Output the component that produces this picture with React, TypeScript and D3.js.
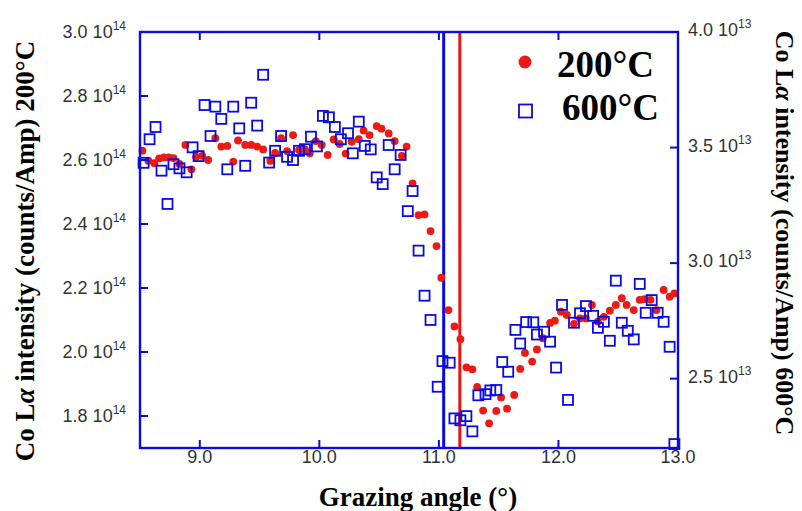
import React from "react";
import * as d3 from "d3";

const angle200 = [8.52,8.57,8.62,8.66,8.70,8.74,8.78,8.83,8.88,8.93,8.97,9.02,9.07,9.13,9.18,9.23,9.28,9.32,9.38,9.43,9.48,9.53,9.59,9.63,9.68,9.73,9.78,9.83,9.88,9.92,9.97,10.02,10.07,10.12,10.17,10.22,10.27,10.33,10.37,10.42,10.48,10.52,10.58,10.63,10.69,10.73,10.78,10.83,10.88,10.93,10.98,11.02,11.08,11.13,11.18,11.23,11.28,11.32,11.37,11.42,11.48,11.52,11.57,11.63,11.68,11.72,11.78,11.82,11.87,11.93,11.97,12.02,12.07,12.13,12.18,12.23,12.28,12.33,12.38,12.43,12.48,12.53,12.57,12.63,12.68,12.72,12.77,12.82,12.88,12.93,12.97];
// intensity in units of 1e14 counts/Amp
const int200 = [2.629,2.598,2.590,2.605,2.608,2.608,2.606,2.588,2.647,2.571,2.610,2.613,2.600,2.668,2.642,2.644,2.595,2.661,2.647,2.647,2.642,2.633,2.597,2.622,2.668,2.628,2.678,2.631,2.633,2.621,2.659,2.647,2.616,2.664,2.650,2.620,2.657,2.665,2.692,2.678,2.706,2.698,2.683,2.659,2.613,2.642,2.527,2.428,2.430,2.378,2.331,2.232,2.131,2.080,2.040,1.952,1.946,1.891,1.817,1.777,1.816,1.858,1.823,1.866,1.947,1.997,1.970,2.008,2.043,2.091,2.098,2.126,2.116,2.088,2.105,2.105,2.147,2.095,2.110,2.129,2.147,2.168,2.147,2.131,2.163,2.165,2.163,2.131,2.194,2.173,2.183];

const angle600 = [8.53,8.58,8.63,8.68,8.73,8.78,8.83,8.89,8.94,8.99,9.04,9.09,9.13,9.18,9.23,9.28,9.33,9.38,9.43,9.48,9.53,9.58,9.63,9.68,9.73,9.78,9.83,9.88,9.93,9.98,10.03,10.08,10.13,10.18,10.24,10.28,10.33,10.38,10.43,10.48,10.53,10.58,10.63,10.68,10.74,10.78,10.83,10.88,10.93,10.99,11.03,11.09,11.13,11.18,11.23,11.28,11.33,11.39,11.43,11.48,11.53,11.58,11.64,11.68,11.73,11.79,11.82,11.88,11.93,11.98,12.03,12.08,12.13,12.18,12.23,12.29,12.33,12.38,12.43,12.48,12.53,12.58,12.63,12.68,12.73,12.78,12.83,12.88,12.93,12.97];
// intensity in units of 1e13 counts/Amp
const int600 = [3.434,3.536,3.589,3.400,3.256,3.428,3.410,3.393,3.501,3.463,3.684,3.550,3.677,3.624,3.406,3.677,3.583,3.421,3.694,3.595,3.815,3.435,3.486,3.550,3.460,3.446,3.486,3.493,3.547,3.505,3.637,3.631,3.589,3.536,3.562,3.475,3.612,3.507,3.492,3.371,3.342,3.511,3.406,3.468,3.225,3.312,3.054,2.859,2.754,2.465,2.576,2.569,2.328,2.320,2.338,2.272,2.428,2.433,2.449,2.451,2.572,2.530,2.711,2.652,2.745,2.744,2.691,2.703,2.660,2.548,2.819,2.408,2.742,2.783,2.814,2.772,2.720,2.746,2.664,2.924,2.742,2.707,2.670,2.910,2.785,2.840,2.785,2.746,2.638,2.217];

const xTicks = [9, 10, 11, 12, 13];
const leftTicks = [1.8, 2.0, 2.2, 2.4, 2.6, 2.8, 3.0];
const rightTicks = [2.5, 3.0, 3.5, 4.0];
const criticalAngles = [
  { angle: 11.04, color: "#0a0ae6" },
  { angle: 11.175, color: "#ee1111" },
];
const legendItems = ["200°C", "600°C"];

const BLUE = "#0a0ae6";
const RED = "#ec1a14";
const L = 140, R = 678, T = 32, B = 448;

export default function App() {
  const x = d3.scaleLinear().domain([8.5, 13]).range([L, R]);
  const yL = d3.scaleLinear().domain([1.7, 3.0]).range([B, T]);
  const yR = d3.scaleLinear().domain([2.2, 4.0]).range([B, T]);
  const fmt = d3.format(".1f");
  const sans = "'Liberation Sans', Arial, sans-serif";
  const serif = "'Liberation Serif', 'Times New Roman', serif";
  const sq = 10;

  return (
    <svg width={802} height={511} style={{ position: "absolute", left: 0, top: 0, background: "#fff" }}>
      {criticalAngles.map((c, i) => (
        <line key={i} x1={x(c.angle)} x2={x(c.angle)} y1={T} y2={B} stroke={c.color} strokeWidth={3} />
      ))}
      {angle200.map((a, i) => (
        <circle key={"r" + i} cx={x(a)} cy={yL(int200[i])} r={3.9} fill={RED} />
      ))}
      {angle600.map((a, i) => (
        <rect key={"b" + i} x={x(a) - sq / 2} y={yR(int600[i]) - sq / 2} width={sq} height={sq} fill="none" stroke={BLUE} strokeWidth={1.8} />
      ))}
      <rect x={L} y={T} width={R - L} height={B - T} fill="none" stroke={BLUE} strokeWidth={2.4} />
      {xTicks.filter((t) => t < 13).map((t) => (
        <g key={"xt" + t}>
          <line x1={x(t)} x2={x(t)} y1={B} y2={B - 8} stroke={BLUE} strokeWidth={2} />
          <line x1={x(t)} x2={x(t)} y1={T} y2={T + 8} stroke={BLUE} strokeWidth={2} />
        </g>
      ))}
      {xTicks.map((t) => (
        <text key={"xl" + t} x={x(t)} y={463} textAnchor="middle" fontFamily={sans} fontSize={18} fill="#333">
          {fmt(t)}
        </text>
      ))}
      {leftTicks.map((t) => (
        <g key={"lt" + t}>
          {t < 3.0 && <line x1={L} x2={L + 8} y1={yL(t)} y2={yL(t)} stroke={BLUE} strokeWidth={2} />}
          <text x={126} y={yL(t) + 6} textAnchor="end" fontFamily={sans} fontSize={18} fill="#333">
            {fmt(t) + " 10"}
            <tspan dy={-8} fontSize={12}>14</tspan>
          </text>
        </g>
      ))}
      {rightTicks.map((t) => (
        <g key={"rt" + t}>
          {t < 4.0 && <line x1={R} x2={R - 8} y1={yR(t)} y2={yR(t)} stroke={BLUE} strokeWidth={2} />}
          <text x={688} y={yR(t) + 4} textAnchor="start" fontFamily={sans} fontSize={18} fill="#333">
            {fmt(t) + " 10"}
            <tspan dy={-8} fontSize={12}>13</tspan>
          </text>
        </g>
      ))}
      <text x={418} y={506} textAnchor="middle" fontFamily={serif} fontWeight="bold" fontSize={27} fill="#000">
        Grazing angle (°)
      </text>
      <text transform="translate(34,251) rotate(-90)" textAnchor="middle" fontFamily={serif} fontWeight="bold" fontSize={27} fill="#000">
        Co L<tspan fontStyle="italic">α</tspan> intensity (counts/Amp) 200°C
      </text>
      <text transform="translate(776,233) rotate(90)" textAnchor="middle" fontFamily={serif} fontWeight="bold" fontSize={26} fill="#000">
        Co L<tspan fontStyle="italic">α</tspan> intensity (counts/Amp) 600°C
      </text>
      <circle cx={525} cy={62} r={6.5} fill={RED} />
      <text x={557} y={77} fontFamily={serif} fontWeight="bold" fontSize={37} fill="#000">{legendItems[0]}</text>
      <rect x={519} y={104.5} width={13} height={13} fill="none" stroke={BLUE} strokeWidth={1.8} />
      <text x={562} y={120} fontFamily={serif} fontWeight="bold" fontSize={37} fill="#000">{legendItems[1]}</text>
    </svg>
  );
}
